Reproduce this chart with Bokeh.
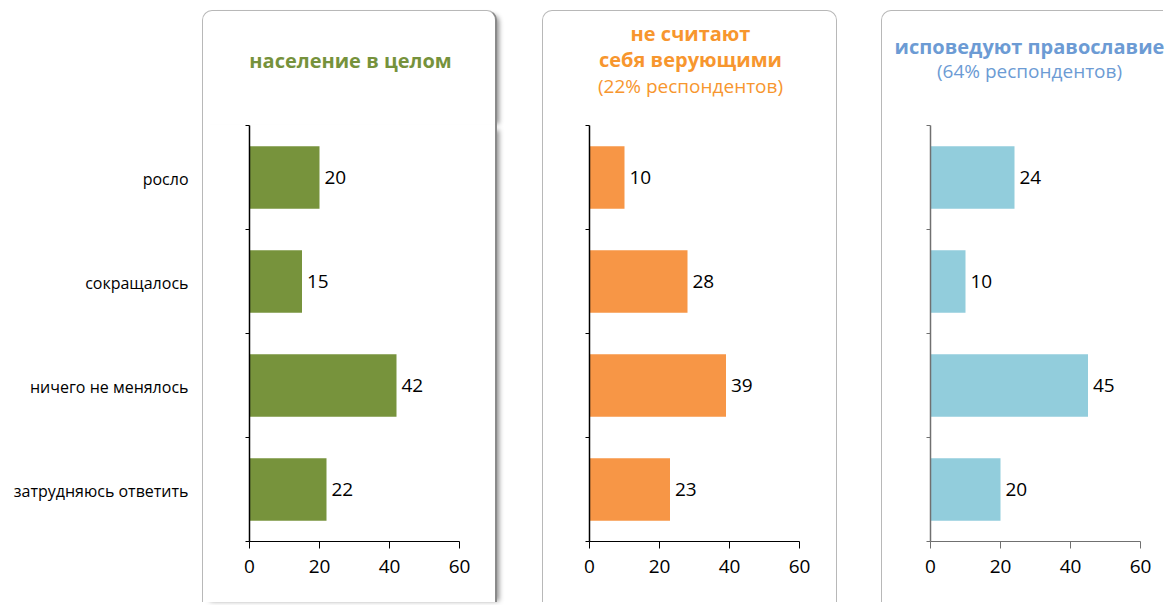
from bokeh.plotting import figure
from bokeh.models import (Range1d, FixedTicker, Spacer, Div)
from bokeh.layouts import row, column
from bokeh.core.properties import value
from bokeh.embed import file_html
from bokeh.resources import INLINE

categories = ["росло", "сокращалось", "ничего не менялось", "затрудняюсь ответить"]
total_values = [20, 15, 42, 22]
nonbeliever_values = [10, 28, 39, 23]
orthodox_values = [24, 10, 45, 20]
x_ticks = [0, 20, 40, 60]

title_total = ["население в целом"]
title_nonbelievers = ["не считают", "себя верующими"]
sub_nonbelievers = "(22% респондентов)"
title_orthodox = ["исповедуют православие"]
sub_orthodox = "(64% респондентов)"

FONT = "Open Sans"
n = len(categories)
ypos = [n - 1 - i for i in range(n)]          # first category on top
bounds = [i - 0.5 for i in range(n + 1)]

FRAME_H = 416        # height of the bar area
FRAME_TOP = 126      # page y of the bar area top
PANEL_TOP = 10       # page y of the panel boxes
TOTAL_H = 603
TITLE_H = FRAME_TOP - PANEL_TOP - 1


def labels_figure():
    p = figure(width=194, height=TOTAL_H, y_range=Range1d(-0.5, n - 0.5),
               x_range=Range1d(0, 1), output_backend="svg", toolbar_location=None,
               x_axis_location=None, min_border_left=180, min_border_right=0,
               min_border_top=FRAME_TOP, min_border_bottom=TOTAL_H - FRAME_TOP - FRAME_H)
    p.outline_line_color = None
    p.grid.visible = False
    p.border_fill_color = None
    p.background_fill_color = None
    ax = p.yaxis[0]
    ax.ticker = FixedTicker(ticks=ypos)
    ax.major_label_overrides = {y: c for y, c in zip(ypos, categories)}
    ax.axis_line_color = None
    ax.major_tick_line_color = None
    ax.major_tick_out = 0
    ax.major_tick_in = 0
    ax.minor_tick_line_color = None
    ax.major_label_standoff = 0
    ax.major_label_text_font = FONT
    ax.major_label_text_font_size = "16px"
    ax.major_label_text_color = "#000000"
    return p


def title_html(bold_lines, sub, color, pad_top, lh):
    parts = [f'<div style="font-size:20px;font-weight:bold;line-height:{lh}px">{t}</div>'
             for t in bold_lines]
    if sub:
        parts.append(f'<div style="font-size:19px;font-weight:normal;line-height:{lh}px">{sub}</div>')
    return (f'<div style="width:295px;text-align:center;white-space:nowrap;'
            f'font-family:\'Open Sans\';color:{color};padding-top:{pad_top}px">'
            + "".join(parts) + "</div>")


def panel(vals, bar_color, axis_color, width, left, right, top_styles, bot_styles, html):
    head = Div(text=html, width=width, height=TITLE_H, margin=0, styles=top_styles)
    bh = TOTAL_H - PANEL_TOP - 1 - TITLE_H
    p = figure(width=width, height=bh, y_range=Range1d(-0.5, n - 0.5),
               x_range=Range1d(0, 60), output_backend="svg", toolbar_location=None,
               min_border_left=left, min_border_right=right,
               min_border_top=0, min_border_bottom=bh - FRAME_H, styles=bot_styles)
    p.outline_line_color = None
    p.grid.visible = False
    p.border_fill_color = None
    p.background_fill_color = None
    yax = p.yaxis[0]
    yax.ticker = FixedTicker(ticks=bounds)
    yax.major_label_overrides = {b: "" for b in bounds}
    yax.major_label_standoff = 0
    yax.major_tick_out = 4
    yax.major_tick_in = 0
    yax.minor_tick_line_color = None
    yax.axis_line_color = axis_color
    yax.major_tick_line_color = axis_color
    yax.axis_line_width = 1.5
    xax = p.xaxis[0]
    xax.ticker = FixedTicker(ticks=x_ticks)
    xax.major_tick_out = 7
    xax.major_tick_in = 0
    xax.minor_tick_line_color = None
    xax.axis_line_color = axis_color
    xax.major_tick_line_color = axis_color
    xax.major_label_standoff = 11
    xax.major_label_text_font = FONT
    xax.major_label_text_font_size = "19px"
    xax.major_label_text_color = "#000000"

    p.hbar(y=ypos, right=vals, left=0, height=0.6, fill_color=bar_color, line_color=None)
    p.text(x=vals, y=ypos, text=[str(v) for v in vals], x_offset=5,
           text_baseline="middle", text_align="left", text_font=value(FONT),
           text_font_size="19px", text_color="#000000")
    return column(Spacer(width=10, height=PANEL_TOP), head, p)


BORDER = "1px solid #b8b8b8"
top_base = {"border-top": BORDER, "border-left": BORDER, "border-right": BORDER,
            "border-radius": "10px 10px 0 0", "background": "white"}
bot_base = {"border-left": BORDER, "border-right": BORDER, "background": "white"}
SHADOW = "5px 2px 5px -3px rgba(0,0,0,0.45)"
top1 = dict(top_base, **{"border-right": "2px solid #8a8a8a", "box-shadow": SHADOW})
bot1 = dict(bot_base, **{"border-right": "2px solid #8a8a8a", "box-shadow": SHADOW})
top3 = dict(top_base, **{"border-right": "none", "border-radius": "10px 0 0 0"})
bot3 = dict(bot_base, **{"border-right": "none"})

GREEN = "#77933C"
ORANGE = "#F79646"
BLUE = "#92CDDC"
T_GREEN = "#76923C"
T_ORANGE = "#F7962E"
T_BLUE = "#6C9BD4"

p0 = labels_figure()
p1 = panel(total_values, GREEN, "#000000", 295, 46, 39, top1, bot1,
           title_html(title_total, None, T_GREEN, 37, 26))
p2 = panel(nonbeliever_values, ORANGE, "#000000", 295, 46, 39, top_base, bot_base,
           title_html(title_nonbelievers, sub_nonbelievers, T_ORANGE, 10, 26))
p3 = panel(orthodox_values, BLUE, "#707070", 282, 48, 24, top3, bot3,
           title_html(title_orthodox, sub_orthodox, T_BLUE, 23, 25))

layout = row(Spacer(width=8, height=10), p0, p1, Spacer(width=45, height=10),
             p2, Spacer(width=44, height=10), p3)

open("out.html", "w").write(file_html(layout, INLINE))
